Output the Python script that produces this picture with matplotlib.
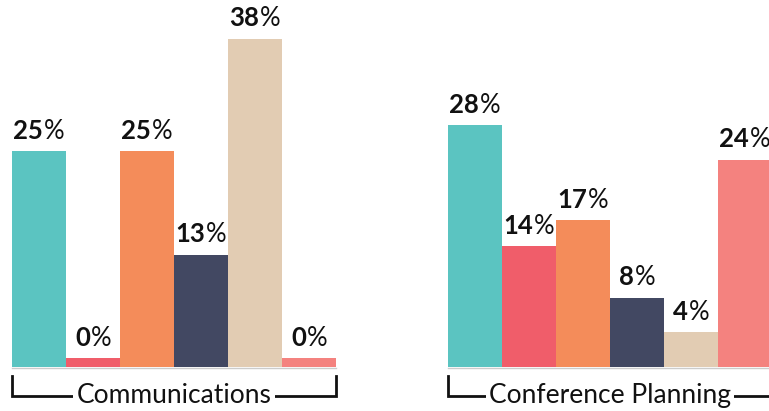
import matplotlib
matplotlib.use("Agg")
import matplotlib.pyplot as plt
from matplotlib.offsetbox import TextArea, HPacker, AnnotationBbox

plt.rcParams['font.family'] = ['Lato', 'DejaVu Sans']

groups = ["Communications", "Conference Planning"]
communications = [25, 0, 25, 13, 38, 0]
conference_planning = [28, 14, 17, 8, 4, 24]
series_values = [communications, conference_planning]
colors = ["#5BC4C1", "#F05D6A", "#F48C5A", "#424862", "#E2CCB3", "#F4827F"]

bar_w = 1.0
group_offset = 8.074
min_stub = 1.0  # zero values still get a thin visible bar

fig = plt.figure(figsize=(7.69, 4.11), dpi=100)
ax = fig.add_axes([0, 0, 1, 1])
ax.set_xlim(-0.722, 13.519)
ax.set_ylim(-5.1, 42.53)
ax.axis("off")

for g, (name, vals) in enumerate(zip(groups, series_values)):
    base = g * group_offset
    xs = [base + i for i in range(len(vals))]
    heights = [max(v, min_stub) for v in vals]
    ax.bar(xs, heights, width=bar_w, color=colors, linewidth=0, zorder=2)
    for x, v, h in zip(xs, vals, heights):
        num = TextArea(f"{v}", textprops=dict(fontsize=18.5, fontweight="bold", color="#111111"))
        pct = TextArea("%", textprops=dict(fontsize=18.5, fontweight="normal", color="#111111"))
        box = HPacker(children=[num, pct], align="baseline", pad=0, sep=0.5)
        ab = AnnotationBbox(box, (x, h), xybox=(0, 5.5), xycoords="data",
                            boxcoords="offset points", box_alignment=(0.5, 0),
                            frameon=False, pad=0)
        ax.add_artist(ab)

    left = base - 0.5
    right = base + len(vals) - 0.5
    # faint baseline under the bars
    ax.plot([left, right], [-0.1, -0.1], color="#cccccc", lw=1, zorder=1)
    # bracket under each group
    y_top, y_bot = -1.0, -3.4
    mid = (left + right) / 2
    ax.text(mid, y_bot + 0.05, name, ha="center", va="center", fontsize=19,
            color="#111111", zorder=3,
            bbox=dict(facecolor="white", edgecolor="none", pad=2.5))
    ax.plot([left, left, right, right], [y_top, y_bot, y_bot, y_top],
            color="#111111", lw=2, solid_joinstyle="miter", zorder=2)

fig.savefig("out.png", dpi=100)
